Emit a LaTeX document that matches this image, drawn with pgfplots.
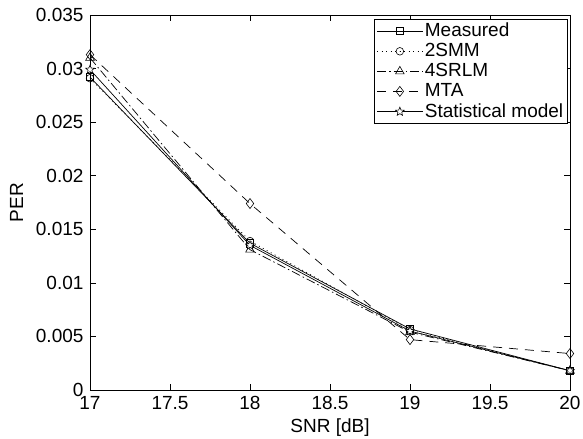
\documentclass[border=0pt]{standalone}
\usepackage{pgfplots}
\pgfplotsset{compat=1.18}
\usepackage{fontspec}
\setmainfont{Liberation Sans}
\pgfdeclareplotmark{pentagram}{%
  \pgfpathmoveto{\pgfqpointpolar{90}{\pgfplotmarksize}}%
  \pgfpathlineto{\pgfqpointpolar{126}{0.45\pgfplotmarksize}}%
  \pgfpathlineto{\pgfqpointpolar{162}{\pgfplotmarksize}}%
  \pgfpathlineto{\pgfqpointpolar{198}{0.45\pgfplotmarksize}}%
  \pgfpathlineto{\pgfqpointpolar{234}{\pgfplotmarksize}}%
  \pgfpathlineto{\pgfqpointpolar{270}{0.45\pgfplotmarksize}}%
  \pgfpathlineto{\pgfqpointpolar{306}{\pgfplotmarksize}}%
  \pgfpathlineto{\pgfqpointpolar{342}{0.45\pgfplotmarksize}}%
  \pgfpathlineto{\pgfqpointpolar{18}{\pgfplotmarksize}}%
  \pgfpathlineto{\pgfqpointpolar{54}{0.45\pgfplotmarksize}}%
  \pgfpathclose
  \pgfusepathqfillstroke
}
\begin{document}
\fontsize{19bp}{21bp}\selectfont
\begin{tikzpicture}
\begin{axis}[
  scale only axis,
  width=480bp, height=375bp,
  xmin=17, xmax=20, ymin=0, ymax=0.035,
  xtick={17,17.5,18,18.5,19,19.5,20},
  xticklabels={17,17.5,18,18.5,19,19.5,20},
  ytick={0,0.005,0.01,0.015,0.02,0.025,0.03,0.035},
  yticklabels={0,0.005,0.01,0.015,0.02,0.025,0.03,0.035},
  scaled y ticks=false, scaled x ticks=false,
  tick align=inside,
  tick style={black, line width=0.6bp},
  major tick length=6bp,
  axis line style={line width=0.8bp},
  /pgf/number format/assume math mode=true,
  xlabel={SNR [dB]}, ylabel={PER},
  xlabel style={yshift=4bp},
  ylabel style={yshift=0bp},
  every tick label/.append style={font=\fontsize{19bp}{21bp}\selectfont},
  label style={font=\fontsize{19bp}{21bp}\selectfont},
  legend style={at={(0.995,0.99)}, anchor=north east, draw=black, line width=0.8bp,
    font=\fontsize{19bp}{21bp}\selectfont, row sep=0bp, inner xsep=2bp, inner ysep=1.5bp},
  legend cell align=left,
  legend image code/.code={\draw[mark repeat=2,mark phase=2] plot coordinates {(0cm,0cm)(0.8cm,0cm)(1.6cm,0cm)};},
  every axis plot/.append style={black, line width=0.7bp, mark size=4.2bp, mark options={solid, fill=white, line width=0.6bp}},
]
\addplot[solid, mark=square, mark size=3.6bp] coordinates {(17,0.0292) (18,0.0137) (19,0.0057) (20,0.0018)};
\addlegendentry{Measured}
\addplot[dash pattern=on 1bp off 3.5bp, mark=o, mark size=3.8bp] coordinates {(17,0.0291) (18,0.0139) (19,0.0056) (20,0.0018)};
\addlegendentry{2SMM}
\addplot[dash pattern=on 9bp off 3bp on 1.5bp off 3bp, mark=triangle, mark size=5bp] coordinates {(17,0.0310) (18,0.0131) (19,0.0054) (20,0.0018)};
\addlegendentry{4SRLM}
\addplot[dash pattern=on 9bp off 7bp, mark=diamond, mark size=5bp] coordinates {(17,0.0313) (18,0.0174) (19,0.0047) (20,0.0034)};
\addlegendentry{MTA}
\addplot[solid, mark=pentagram, mark size=4.5bp] coordinates {(17,0.0299) (18,0.0135) (19,0.0055) (20,0.0018)};
\addlegendentry{Statistical model}
\end{axis}
\pgfresetboundingbox
\path ([xshift=-90bp,yshift=-49bp]current axis.south west) rectangle ([xshift=13bp,yshift=15bp]current axis.north east);
\end{tikzpicture}
\end{document}
